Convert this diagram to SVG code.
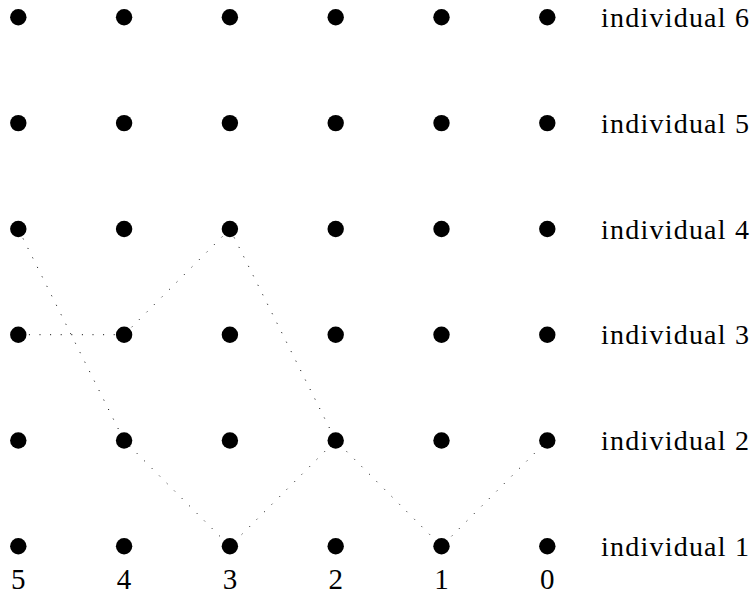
<svg xmlns="http://www.w3.org/2000/svg" width="752" height="602" viewBox="0 0 752 602">
<style>
.d{fill:#000}
.t{font-family:"Liberation Serif","DejaVu Serif",serif;font-size:28px;fill:#000}
.n{font-family:"Liberation Serif","DejaVu Serif",serif;font-size:29px;fill:#000;text-anchor:middle}
.c{stroke:#000;stroke-width:1;fill:none;stroke-dasharray:1 9.6}
</style>
<rect width="752" height="602" fill="#fff"/>
<g id="connectors">
<polyline class="c" points="18.3,229 124.1,440.5 229.9,546.3 335.7,440.5 441.5,546.3 547.3,440.5"/>
<line class="c" x1="18.3" y1="334.7" x2="124.1" y2="334.7"/>
<polyline class="c" points="124.1,334.7 229.9,229 335.7,440.5"/>
</g>
<g id="row6">
<circle class="d" cx="18.3" cy="17.3" r="8.2"/><circle class="d" cx="124.1" cy="17.3" r="8.2"/><circle class="d" cx="229.9" cy="17.3" r="8.2"/><circle class="d" cx="335.7" cy="17.3" r="8.2"/><circle class="d" cx="441.5" cy="17.3" r="8.2"/><circle class="d" cx="547.3" cy="17.3" r="8.2"/>
<text class="t" x="601" y="27" textLength="148" lengthAdjust="spacing">individual 6</text>
</g>
<g id="row5">
<circle class="d" cx="18.3" cy="123.1" r="8.2"/><circle class="d" cx="124.1" cy="123.1" r="8.2"/><circle class="d" cx="229.9" cy="123.1" r="8.2"/><circle class="d" cx="335.7" cy="123.1" r="8.2"/><circle class="d" cx="441.5" cy="123.1" r="8.2"/><circle class="d" cx="547.3" cy="123.1" r="8.2"/>
<text class="t" x="601" y="132.8" textLength="148" lengthAdjust="spacing">individual 5</text>
</g>
<g id="row4">
<circle class="d" cx="18.3" cy="229" r="8.2"/><circle class="d" cx="124.1" cy="229" r="8.2"/><circle class="d" cx="229.9" cy="229" r="8.2"/><circle class="d" cx="335.7" cy="229" r="8.2"/><circle class="d" cx="441.5" cy="229" r="8.2"/><circle class="d" cx="547.3" cy="229" r="8.2"/>
<text class="t" x="601" y="238.7" textLength="148" lengthAdjust="spacing">individual 4</text>
</g>
<g id="row3">
<circle class="d" cx="18.3" cy="334.7" r="8.2"/><circle class="d" cx="124.1" cy="334.7" r="8.2"/><circle class="d" cx="229.9" cy="334.7" r="8.2"/><circle class="d" cx="335.7" cy="334.7" r="8.2"/><circle class="d" cx="441.5" cy="334.7" r="8.2"/><circle class="d" cx="547.3" cy="334.7" r="8.2"/>
<text class="t" x="601" y="344.4" textLength="148" lengthAdjust="spacing">individual 3</text>
</g>
<g id="row2">
<circle class="d" cx="18.3" cy="440.5" r="8.2"/><circle class="d" cx="124.1" cy="440.5" r="8.2"/><circle class="d" cx="229.9" cy="440.5" r="8.2"/><circle class="d" cx="335.7" cy="440.5" r="8.2"/><circle class="d" cx="441.5" cy="440.5" r="8.2"/><circle class="d" cx="547.3" cy="440.5" r="8.2"/>
<text class="t" x="601" y="450.2" textLength="148" lengthAdjust="spacing">individual 2</text>
</g>
<g id="row1">
<circle class="d" cx="18.3" cy="546.3" r="8.2"/><circle class="d" cx="124.1" cy="546.3" r="8.2"/><circle class="d" cx="229.9" cy="546.3" r="8.2"/><circle class="d" cx="335.7" cy="546.3" r="8.2"/><circle class="d" cx="441.5" cy="546.3" r="8.2"/><circle class="d" cx="547.3" cy="546.3" r="8.2"/>
<text class="t" x="601" y="556" textLength="148" lengthAdjust="spacing">individual 1</text>
</g>
<g id="axis">
<text class="n" x="18.3" y="589">5</text>
<text class="n" x="124.1" y="589">4</text>
<text class="n" x="229.9" y="589">3</text>
<text class="n" x="335.7" y="589">2</text>
<text class="n" x="441.5" y="589">1</text>
<text class="n" x="547.3" y="589">0</text>
</g>
</svg>
